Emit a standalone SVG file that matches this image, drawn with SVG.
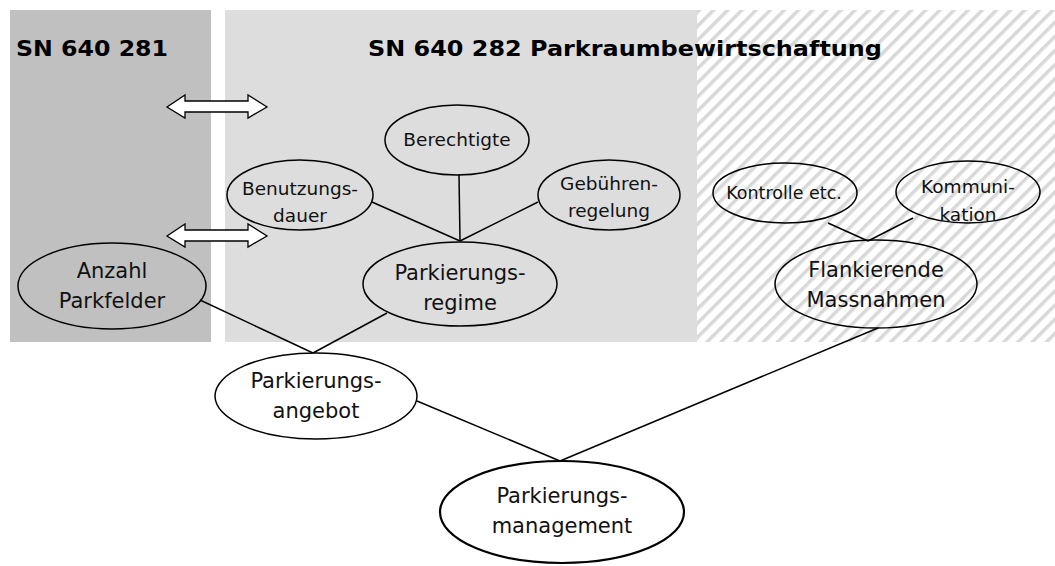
<svg xmlns="http://www.w3.org/2000/svg" width="1055" height="566" viewBox="0 0 1055 566">
<defs>
<pattern id="hatch" patternUnits="userSpaceOnUse" width="10" height="10" patternTransform="rotate(45)">
<rect width="10" height="10" fill="#ffffff"/>
<rect x="0" y="0" width="3.5" height="10" fill="#d8d8d8"/>
</pattern>
<style>
.hdr{font-family:"DejaVu Sans",Verdana,sans-serif;font-weight:bold;font-size:22px;fill:#000}
.lbl{font-family:"DejaVu Sans",Verdana,sans-serif;font-size:21px;fill:#111;text-anchor:middle}
.sm{font-family:"DejaVu Sans",Verdana,sans-serif;font-size:18.5px;fill:#111;text-anchor:middle}
.xs{font-family:"DejaVu Sans",Verdana,sans-serif;font-size:17.5px;fill:#111;text-anchor:middle}
.el{fill:none;stroke:#000;stroke-width:1.5}
.elw{fill:#fff;stroke:#000;stroke-width:1.5}
.con line{stroke:#000;stroke-width:1.5}
.arr{fill:#fff;stroke:#000;stroke-width:1.3;stroke-linejoin:miter}
</style>
</defs>
<rect width="1055" height="566" fill="#fff"/>
<g id="panels">
<rect x="10" y="10" width="201" height="332" fill="#c0c0c0"/>
<rect x="225" y="10" width="472" height="332" fill="#dddddd"/>
<rect x="697" y="10" width="358" height="332" fill="url(#hatch)"/>
<text class="hdr" x="16" y="56" textLength="152" lengthAdjust="spacingAndGlyphs">SN 640 281</text>
<text class="hdr" x="368" y="56" textLength="514" lengthAdjust="spacingAndGlyphs">SN 640 282 Parkraumbewirtschaftung</text>
</g>
<g id="arrows">
<path class="arr" d="M167,107 L185,95 L185,101 L248,101 L248,95 L267,107 L248,118 L248,112 L185,112 L185,118 Z"/>
<path class="arr" d="M167,236 L185,224 L185,230 L248,230 L248,224 L267,236 L248,247 L248,241 L185,241 L185,247 Z"/>
</g>
<g id="connectors" class="con">
<line x1="372" y1="202" x2="460" y2="241"/>
<line x1="459" y1="175" x2="460" y2="241"/>
<line x1="538" y1="202" x2="460" y2="241"/>
<line x1="200" y1="300" x2="313" y2="353"/>
<line x1="387" y1="313" x2="313" y2="353"/>
<line x1="417" y1="401" x2="560" y2="461"/>
<line x1="878" y1="328" x2="560" y2="461"/>
<line x1="828" y1="223" x2="868" y2="241"/>
<line x1="913" y1="218" x2="868" y2="241"/>
</g>
<g id="anzahl">
<ellipse class="el" cx="112" cy="286" rx="94" ry="43"/>
<text class="lbl" x="112" y="278">Anzahl</text>
<text class="lbl" x="112" y="308">Parkfelder</text>
</g>
<g id="benutzungsdauer">
<ellipse class="el" cx="300" cy="195" rx="73" ry="35"/>
<text class="sm" x="300" y="195">Benutzungs-</text>
<text class="sm" x="300" y="222">dauer</text>
</g>
<g id="berechtigte">
<ellipse class="el" cx="457" cy="140" rx="72" ry="35"/>
<text class="sm" x="457" y="146">Berechtigte</text>
</g>
<g id="gebuehren">
<ellipse class="el" cx="609" cy="195" rx="71" ry="35"/>
<text class="sm" x="609" y="190">Gebühren-</text>
<text class="sm" x="609" y="217">regelung</text>
</g>
<g id="regime">
<ellipse class="el" cx="460" cy="284" rx="97" ry="42"/>
<text class="lbl" x="460" y="280">Parkierungs-</text>
<text class="lbl" x="460" y="310">regime</text>
</g>
<g id="kontrolle">
<ellipse class="el" cx="785" cy="193" rx="72" ry="30"/>
<text class="xs" x="784" y="199">Kontrolle etc.</text>
</g>
<g id="kommunikation">
<ellipse class="el" cx="968" cy="192" rx="72" ry="31"/>
<text class="sm" x="968" y="193">Kommuni-</text>
<text class="sm" x="968" y="221">kation</text>
</g>
<g id="flankierende">
<ellipse class="el" cx="876" cy="284" rx="101" ry="44"/>
<text class="lbl" x="876" y="277">Flankierende</text>
<text class="lbl" x="876" y="307">Massnahmen</text>
</g>
<g id="angebot">
<ellipse class="elw" cx="316" cy="396" rx="101" ry="43"/>
<text class="lbl" x="316" y="388">Parkierungs-</text>
<text class="lbl" x="316" y="418">angebot</text>
</g>
<g id="management">
<ellipse cx="562" cy="512" rx="122" ry="51" fill="#fff" stroke="#000" stroke-width="2.2"/>
<text class="lbl" x="562" y="503">Parkierungs-</text>
<text class="lbl" x="562" y="533">management</text>
</g>
</svg>
